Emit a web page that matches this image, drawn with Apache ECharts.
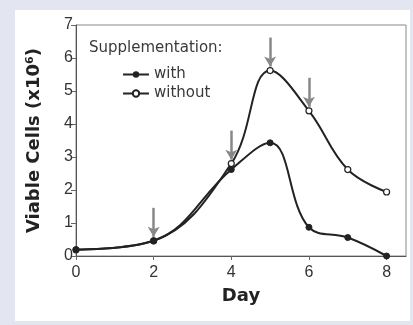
<!DOCTYPE html>
<html><head><meta charset="utf-8">
<script src="https://cdn.jsdelivr.net/npm/echarts@6/dist/echarts.min.js"></script>
<style>html,body{margin:0;padding:0;background:#e3e5f1;}#c{width:413px;height:325px;}</style>
</head><body><div id="c"></div>
<script>
const days = [0, 2, 4, 5, 6, 7, 8];
const withSupp = [0.19, 0.46, 2.62, 3.43, 0.87, 0.56, 0.0];
const withoutSupp = [0.19, 0.46, 2.8, 5.62, 4.4, 2.62, 1.94];
const arrowDays = [2, 4, 5, 6];
const xTicks = [0, 2, 4, 6, 8];
const yTicks = [0, 1, 2, 3, 4, 5, 6, 7];

const pair = (xs, ys) => xs.map((x, i) => [x, ys[i]]);
const arrowData = arrowDays.map(d => {
  const v = withoutSupp[days.indexOf(d)];
  return [{ coord: [d, v + 1.0] }, { coord: [d, v + 0.12] }];
});
const font = 'DejaVu Sans';
const chart = echarts.init(document.getElementById('c'));
chart.setOption({
  backgroundColor: '#e3e5f1',
  animation: false,
  graphic: [
    { type: 'rect', shape: { x: 15, y: 10, width: 395, height: 311 }, style: { fill: '#ffffff' }, z: -10 },
    { type: 'text', left: 89, top: 41, style: { text: 'Supplementation:', font: '15px "DejaVu Sans"', fill: '#3a3a3a' } }
  ],
  grid: { left: 76, right: 7, top: 25, bottom: 69, show: true, borderColor: '#888', borderWidth: 1 },
  legend: {
    orient: 'vertical', left: 117, top: 62, itemWidth: 26, itemHeight: 8, itemGap: 4,
    textStyle: { fontFamily: font, fontSize: 15, color: '#3a3a3a' },
    data: ['with', 'without']
  },
  xAxis: {
    type: 'value', min: 0, max: 8.5, interval: 2,
    name: 'Day', nameLocation: 'middle', nameGap: 31,
    nameTextStyle: { fontFamily: font, fontWeight: 'bold', fontSize: 18, color: '#222' },
    axisLine: { lineStyle: { color: '#555', width: 1 } },
    axisTick: { show: true, length: 4, customValues: xTicks, lineStyle: { color: '#666' } },
    axisLabel: { customValues: xTicks, fontFamily: 'Liberation Sans', fontSize: 16, color: '#333', margin: 9 },
    splitLine: { show: false }
  },
  yAxis: {
    type: 'value', min: 0, max: 7, interval: 1,
    name: 'Viable Cells (x10\u2076)', nameLocation: 'middle', nameGap: 33,
    nameTextStyle: { fontFamily: font, fontWeight: 'bold', fontSize: 18, color: '#222' },
    axisLine: { show: true, lineStyle: { color: '#555', width: 1 } },
    axisTick: { show: true, length: 5, lineStyle: { color: '#666' } },
    axisLabel: { fontFamily: 'Liberation Sans', fontSize: 16, color: '#333', margin: 3 },
    splitLine: { show: false }
  },
  series: [
    {
      name: 'with', type: 'line', data: pair(days, withSupp), smooth: 0.4,
      symbol: 'circle', symbolSize: 6,
      itemStyle: { color: '#222', borderColor: '#222' },
      lineStyle: { color: '#222', width: 2 }, z: 3
    },
    {
      name: 'without', type: 'line', data: pair(days, withoutSupp), smooth: 0.4,
      symbol: 'circle', symbolSize: 6,
      itemStyle: { color: '#fff', borderColor: '#222', borderWidth: 1.2 },
      lineStyle: { color: '#222', width: 2 }, z: 2,
      markLine: {
        silent: true, symbol: ['none', 'arrow'], symbolSize: [9, 10],
        label: { show: false },
        lineStyle: { color: '#888', width: 2.5, type: 'solid' },
        data: arrowData
      }
    }
  ]
});
</script></body></html>
